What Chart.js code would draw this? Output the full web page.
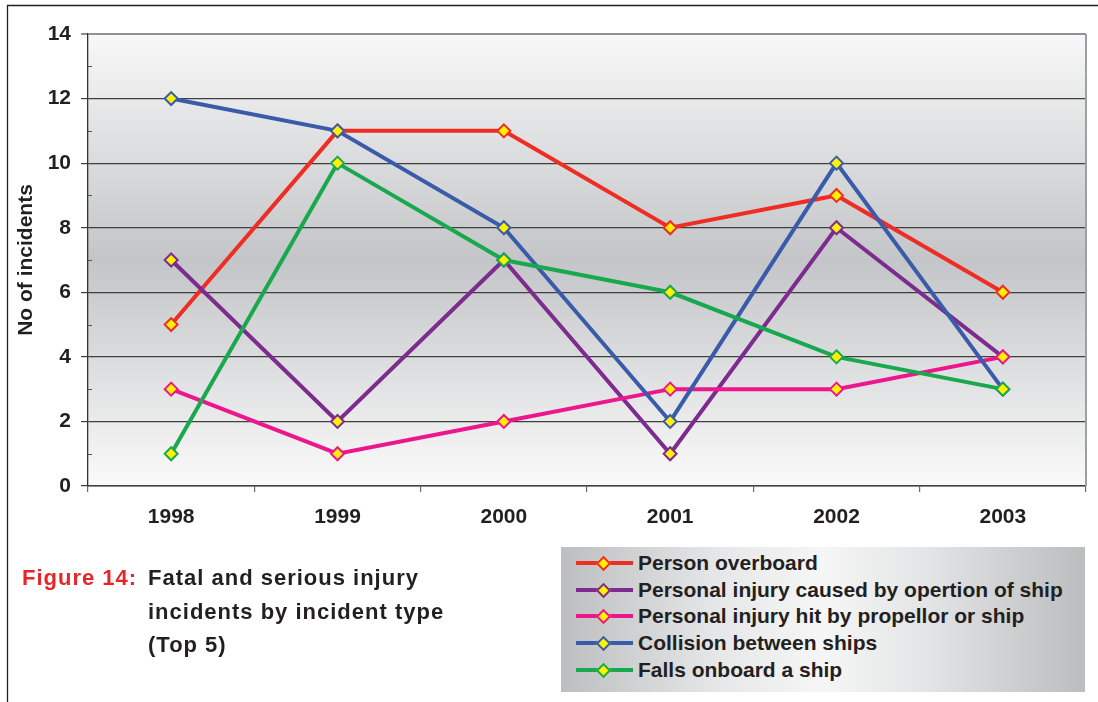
<!DOCTYPE html>
<html>
<head>
<meta charset="utf-8">
<script src="https://cdn.jsdelivr.net/npm/chart.js@4/dist/chart.umd.min.js"></script>
<style>
  html, body { margin: 0; padding: 0; background: #ffffff; }
  #wrap { position: relative; width: 1098px; height: 702px; overflow: hidden;
          font-family: "Liberation Sans", Arial, sans-serif; color: #231f20; }
  #chart { position: absolute; left: 0; top: 0; }
  #caption { position: absolute; left: 22px; top: 561px; font-weight: bold; font-size: 22px; line-height: 33.5px; letter-spacing: 1px; }
  #caption .fig { position: absolute; left: 0; top: 0; color: #e8262a; white-space: nowrap; }
  #caption .txt { position: absolute; left: 126px; top: 0; white-space: nowrap; }
  #legend { position: absolute; left: 561px; top: 547px; width: 524px; height: 145px;
            background: linear-gradient(to right, #bdbec0 0%, #e6e7e8 30%, #f6f6f6 50%, #e3e4e5 70%, #bcbdbf 100%); }
  .item { position: absolute; left: 0; height: 26px; width: 524px; }
  .item .ln { position: absolute; left: 15px; top: 11px; width: 57px; height: 4px; }
  .item .dm { position: absolute; left: 37px; top: 8px; width: 7px; height: 7px; border: 2px solid; background: #fff200; transform: rotate(45deg); }
  .item .lb { position: absolute; left: 77px; top: 0; line-height: 26px; font-size: 21px; font-weight: bold; white-space: nowrap; }
</style>
</head>
<body>
<div id="wrap">
  <canvas id="chart" width="1098" height="702"></canvas>
  <div id="caption">
    <div class="fig">Figure 14:</div>
    <div class="txt">Fatal and serious injury<br>incidents by incident type<br>(Top 5)</div>
  </div>
  <div id="legend"></div>
</div>
<script>
// Years on the category axis
const years = ['1998', '1999', '2000', '2001', '2002', '2003'];

// Incident counts per year for each incident type
const personOverboard = [5, 11, 11, 8, 9, 6];
const injuryOperation = [7, 2, 7, 1, 8, 4];
const injuryPropeller = [3, 1, 2, 3, 3, 4];
const collisionShips  = [12, 11, 8, 2, 10, 3];
const fallsOnboard    = [1, 10, 7, 6, 4, 3];

// Series names and colours
const seriesNames = [
  'Person overboard',
  'Personal injury caused by opertion of ship',
  'Personal injury hit by propellor or ship',
  'Collision between ships',
  'Falls onboard a ship'
];
const seriesColors = ['#ee2d24', '#7d2b8f', '#ec178c', '#3a5ba9', '#1aa84f'];
const seriesValues = [personOverboard, injuryOperation, injuryPropeller, collisionShips, fallsOnboard];

// Value axis range
const yMin = 0, yMax = 14, yStep = 2;

const FONT = '"Liberation Sans", Arial, sans-serif';
const INK = '#231f20';

const datasets = seriesValues.map((vals, i) => ({
  label: seriesNames[i],
  data: vals,
  borderColor: seriesColors[i],
  backgroundColor: seriesColors[i],
  borderWidth: 4,
  tension: 0,
  pointStyle: 'rectRot',
  pointRadius: 6.5,
  pointHoverRadius: 6.5,
  pointBorderWidth: 2,
  pointBorderColor: seriesColors[i],
  pointBackgroundColor: '#fff200',
  order: seriesValues.length - i
}));

// Plot background, outer frame, right edge and minor ticks
const decor = {
  id: 'decor',
  beforeDraw(chart) {
    const { ctx, chartArea: a } = chart;
    ctx.save();
    const g = ctx.createLinearGradient(0, a.top, 0, a.bottom);
    g.addColorStop(0, '#f8f8f8');
    g.addColorStop(0.5, '#c4c5c8');
    g.addColorStop(1, '#fafafa');
    ctx.fillStyle = g;
    ctx.fillRect(a.left, a.top, a.right - a.left, a.bottom - a.top);
    // outer frame
    ctx.strokeStyle = INK;
    ctx.lineWidth = 1.3;
    ctx.beginPath();
    ctx.moveTo(7.5, 702);
    ctx.lineTo(7.5, 5.5);
    ctx.lineTo(1098, 5.5);
    ctx.stroke();
    ctx.restore();
  },
  afterDraw(chart) {
    const { ctx, chartArea: a } = chart;
    const y = chart.scales.y;
    ctx.save();
    // right edge of plot
    ctx.strokeStyle = '#9ca0a5';
    ctx.lineWidth = 2;
    ctx.beginPath();
    ctx.moveTo(a.right, a.top);
    ctx.lineTo(a.right, a.bottom);
    ctx.stroke();
    // minor ticks on the value axis
    ctx.strokeStyle = '#555555';
    ctx.lineWidth = 1;
    for (let v = yMin + 1; v < yMax; v += yStep) {
      const py = Math.round(y.getPixelForValue(v)) + 0.5;
      ctx.beginPath();
      ctx.moveTo(a.left, py);
      ctx.lineTo(a.left + 4, py);
      ctx.stroke();
    }
    ctx.restore();
  }
};

new Chart(document.getElementById('chart'), {
  type: 'line',
  data: { labels: years, datasets },
  options: {
    responsive: false,
    animation: false,
    events: [],
    layout: { padding: { left: 10, top: 34, right: 12, bottom: 0 } },
    plugins: { legend: { display: false }, tooltip: { enabled: false } },
    scales: {
      x: {
        offset: true,
        afterFit(scale) { scale.height = 702 - 486; },
        grid: { offset: true, drawOnChartArea: false, drawTicks: true, tickLength: 6, color: '#6a6a6a', lineWidth: 1.2 },
        border: { display: true, color: '#444444', width: 1.5 },
        ticks: { color: INK, padding: 13, font: { family: FONT, size: 21, weight: 'bold' } }
      },
      y: {
        min: yMin,
        max: yMax,
        afterFit(scale) { scale.width = 78; },
        grid: {
          color: ctx => (ctx.tick && ctx.tick.value === yMax) ? '#8c9298' : '#3f3f3f',
          lineWidth: ctx => (ctx.tick && ctx.tick.value === yMax) ? 2 : 1.2,
          tickLength: 7
        },
        border: { display: true, color: '#333333', width: 1.3 },
        ticks: { stepSize: yStep, color: INK, padding: 10, font: { family: FONT, size: 21, weight: 'bold' } },
        title: {
          display: true,
          text: 'No of incidents',
          color: INK,
          padding: { top: 4, bottom: 0 },
          font: { family: FONT, size: 21, weight: 'bold' }
        }
      }
    }
  },
  plugins: [decor]
});

// Legend built from the same series definitions
const legend = document.getElementById('legend');
seriesNames.forEach((name, i) => {
  const row = document.createElement('div');
  row.className = 'item';
  row.style.top = (3 + i * 26.7) + 'px';
  const ln = document.createElement('div');
  ln.className = 'ln';
  ln.style.background = seriesColors[i];
  const dm = document.createElement('div');
  dm.className = 'dm';
  dm.style.borderColor = seriesColors[i];
  const lb = document.createElement('div');
  lb.className = 'lb';
  lb.textContent = name;
  row.appendChild(ln);
  row.appendChild(dm);
  row.appendChild(lb);
  legend.appendChild(row);
});
</script>
</body>
</html>
